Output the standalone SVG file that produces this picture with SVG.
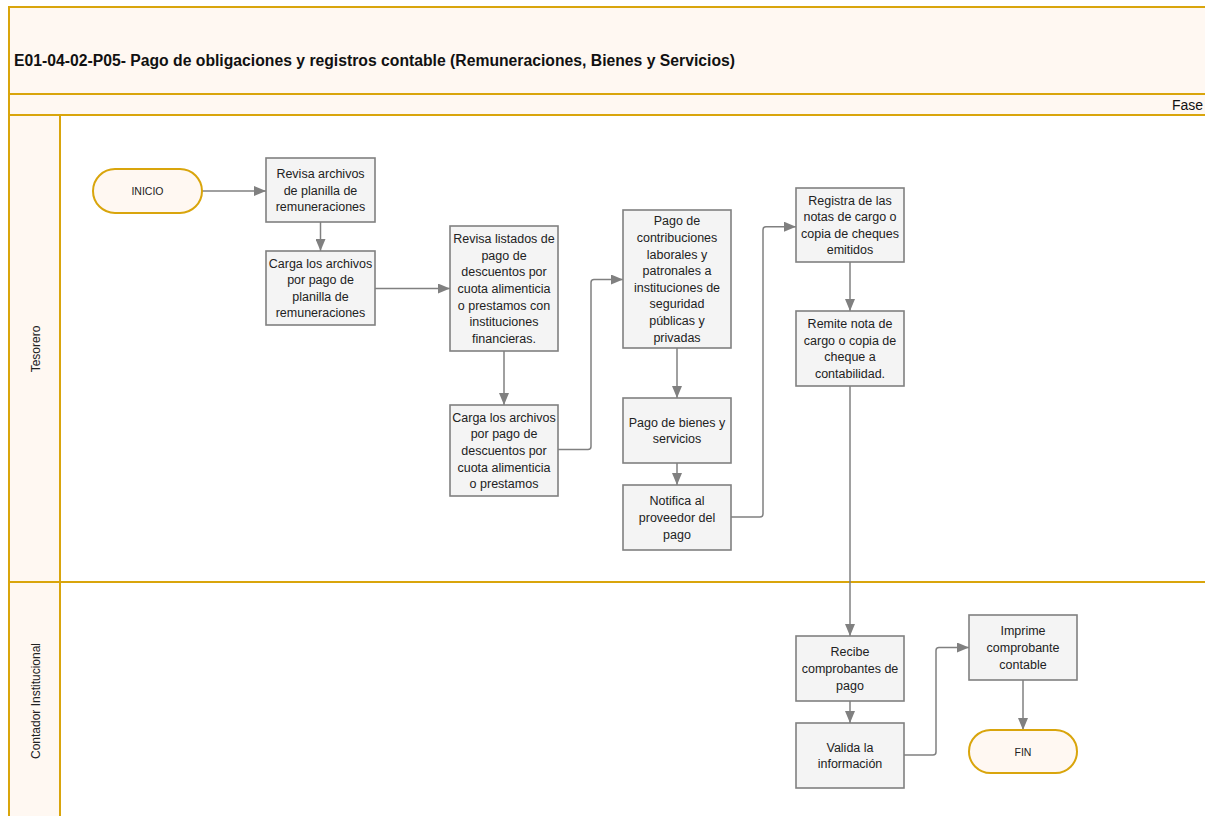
<svg xmlns="http://www.w3.org/2000/svg" width="1205" height="816" viewBox="0 0 1205 816">
<style>
.band{fill:#FFF8F2;stroke:#D9A50C;stroke-width:2}
.body{fill:#FFFFFF;stroke:#D9A50C;stroke-width:2}
.box{fill:#F4F4F4;stroke:#808080;stroke-width:1.6}
.term{fill:#FFF8F2;stroke:#D9A50C;stroke-width:2}
.t{font-family:"Liberation Sans",Arial,sans-serif;font-size:12.5px;fill:#222;text-anchor:middle}
.ts{font-family:"Liberation Sans",Arial,sans-serif;font-size:10.5px;fill:#222;text-anchor:middle}
.lane{font-family:"Liberation Sans",Arial,sans-serif;font-size:12px;fill:#222;text-anchor:middle}
.c{fill:none;stroke:#808080;stroke-width:1.5}
</style>
<defs>
<marker id="ah" markerUnits="userSpaceOnUse" markerWidth="12" markerHeight="10" viewBox="0 0 12 10" refX="12" refY="5" orient="auto">
<path d="M0,0 L12,5 L0,10 Z" fill="#808080"/>
</marker>
</defs>
<rect width="1205" height="816" fill="#FFFFFF"/>
<g id="frame">
<rect class="band" x="9" y="7" width="1215" height="87"/>
<rect class="band" x="9" y="94" width="1215" height="21"/>
<rect class="body" x="9" y="115" width="1215" height="467"/>
<rect class="body" x="9" y="582" width="1215" height="250"/>
<rect class="band" x="9" y="115" width="51" height="467"/>
<rect class="band" x="9" y="582" width="51" height="250"/>
<text x="14" y="66" font-family="'Liberation Sans',Arial,sans-serif" font-size="16" font-weight="bold" fill="#111" textLength="721" lengthAdjust="spacingAndGlyphs">E01-04-02-P05- Pago de obligaciones y registros contable (Remuneraciones, Bienes y Servicios)</text>
<text x="1203" y="110" font-family="'Liberation Sans',Arial,sans-serif" font-size="14" fill="#111" text-anchor="end">Fase</text>
<text class="lane" transform="translate(40,349) rotate(-90)">Tesorero</text>
<text class="lane" transform="translate(40,701) rotate(-90)" font-size="12.5">Contador Institucional</text>
</g>
<g id="connectors">
<path class="c" marker-end="url(#ah)" d="M202,191 H266"/>
<path class="c" marker-end="url(#ah)" d="M320.5,222 V251"/>
<path class="c" marker-end="url(#ah)" d="M375,288.5 H450"/>
<path class="c" marker-end="url(#ah)" d="M504,351 V405"/>
<path class="c" marker-end="url(#ah)" d="M558,449.5 H588 Q591,449.5 591,446.5 V282.5 Q591,279.5 594,279.5 H623"/>
<path class="c" marker-end="url(#ah)" d="M677,348 V398"/>
<path class="c" marker-end="url(#ah)" d="M677,463 V485"/>
<path class="c" marker-end="url(#ah)" d="M731,517 H760 Q763,517 763,514 V229.7 Q763,226.7 766,226.7 H796"/>
<path class="c" marker-end="url(#ah)" d="M850,262 V311"/>
<path class="c" marker-end="url(#ah)" d="M850,386 V636"/>
<path class="c" marker-end="url(#ah)" d="M850,701 V723"/>
<path class="c" marker-end="url(#ah)" d="M904,755 H933 Q936,755 936,752 V650.5 Q936,647.5 939,647.5 H969"/>
<path class="c" marker-end="url(#ah)" d="M1023,680 V730"/>
</g>
<g id="inicio">
<rect class="term" x="93" y="169" width="109" height="44" rx="22"/>
<text class="ts" x="147.5" y="195">INICIO</text>
</g>
<g id="revisa-archivos">
<rect class="box" x="266" y="158" width="109" height="64"/>
<text class="t" x="320.5" y="178">Revisa archivos</text>
<text class="t" x="320.5" y="194.6">de planilla de</text>
<text class="t" x="320.5" y="211.2">remuneraciones</text>
</g>
<g id="carga-planilla">
<rect class="box" x="266" y="251" width="109" height="74"/>
<text class="t" x="320.5" y="267.6">Carga los archivos</text>
<text class="t" x="320.5" y="284.2">por pago de</text>
<text class="t" x="320.5" y="300.8">planilla de</text>
<text class="t" x="320.5" y="317.4">remuneraciones</text>
</g>
<g id="revisa-listados">
<rect class="box" x="450" y="226" width="108" height="125"/>
<text class="t" x="504" y="243.2">Revisa listados de</text>
<text class="t" x="504" y="259.8">pago de</text>
<text class="t" x="504" y="276.4">descuentos por</text>
<text class="t" x="504" y="293">cuota alimenticia</text>
<text class="t" x="504" y="309.6">o prestamos con</text>
<text class="t" x="504" y="326.2">instituciones</text>
<text class="t" x="504" y="342.8">financieras.</text>
</g>
<g id="carga-descuentos">
<rect class="box" x="450" y="405" width="108" height="91"/>
<text class="t" x="504" y="421.8">Carga los archivos</text>
<text class="t" x="504" y="438.4">por pago de</text>
<text class="t" x="504" y="455">descuentos por</text>
<text class="t" x="504" y="471.6">cuota alimenticia</text>
<text class="t" x="504" y="488.2">o prestamos</text>
</g>
<g id="pago-contribuciones">
<rect class="box" x="623" y="210" width="108" height="138"/>
<text class="t" x="677" y="225.4">Pago de</text>
<text class="t" x="677" y="242">contribuciones</text>
<text class="t" x="677" y="258.6">laborales y</text>
<text class="t" x="677" y="275.2">patronales a</text>
<text class="t" x="677" y="291.8">instituciones de</text>
<text class="t" x="677" y="308.4">seguridad</text>
<text class="t" x="677" y="325">públicas y</text>
<text class="t" x="677" y="341.6">privadas</text>
</g>
<g id="pago-bienes">
<rect class="box" x="623" y="398" width="108" height="65"/>
<text class="t" x="677" y="426.7">Pago de bienes y</text>
<text class="t" x="677" y="443.3">servicios</text>
</g>
<g id="notifica">
<rect class="box" x="623" y="485" width="108" height="65"/>
<text class="t" x="677" y="505.4">Notifica al</text>
<text class="t" x="677" y="522">proveedor del</text>
<text class="t" x="677" y="538.6">pago</text>
</g>
<g id="registra">
<rect class="box" x="796" y="188" width="108" height="74"/>
<text class="t" x="850" y="204.6">Registra de las</text>
<text class="t" x="850" y="221.2">notas de cargo o</text>
<text class="t" x="850" y="237.8">copia de cheques</text>
<text class="t" x="850" y="254.4">emitidos</text>
</g>
<g id="remite">
<rect class="box" x="796" y="311" width="108" height="75"/>
<text class="t" x="850" y="328.1">Remite nota de</text>
<text class="t" x="850" y="344.7">cargo o copia de</text>
<text class="t" x="850" y="361.3">cheque a</text>
<text class="t" x="850" y="377.9">contabilidad.</text>
</g>
<g id="recibe">
<rect class="box" x="796" y="636" width="108" height="65"/>
<text class="t" x="850" y="656.4">Recibe</text>
<text class="t" x="850" y="673">comprobantes de</text>
<text class="t" x="850" y="689.6">pago</text>
</g>
<g id="valida">
<rect class="box" x="796" y="723" width="108" height="65"/>
<text class="t" x="850" y="751.7">Valida la</text>
<text class="t" x="850" y="768.3">información</text>
</g>
<g id="imprime">
<rect class="box" x="969" y="615" width="108" height="65"/>
<text class="t" x="1023" y="635.4">Imprime</text>
<text class="t" x="1023" y="652">comprobante</text>
<text class="t" x="1023" y="668.6">contable</text>
</g>
<g id="fin">
<rect class="term" x="969" y="730" width="108" height="43" rx="21.5"/>
<text class="ts" x="1023" y="755.5">FIN</text>
</g>
</svg>
